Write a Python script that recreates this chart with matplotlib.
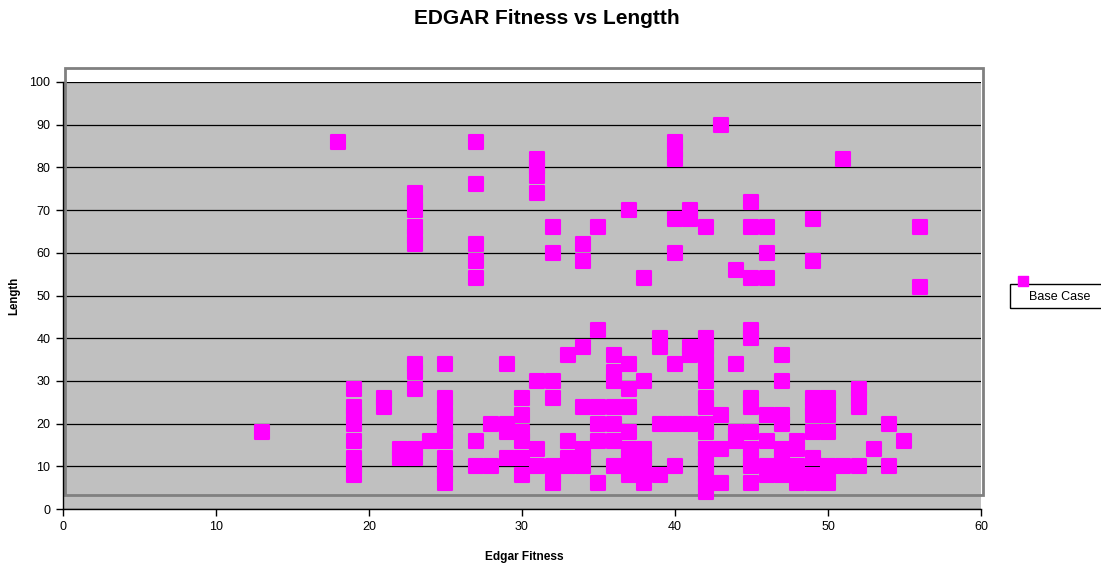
import matplotlib.pyplot as plt
from matplotlib.markers import MarkerStyle
from matplotlib.patches import Rectangle

plt.rcParams['font.family'] = ['Liberation Sans', 'DejaVu Sans']

# Edgar fitness value and the length of each run, grouped by fitness
fit_13 = [18]
fit_18 = [86]
fit_19 = [28, 24, 22, 20, 16, 12, 10, 8]
fit_21 = [26, 24]
fit_22 = [14, 12]
fit_23 = [74, 72, 70, 66, 64, 62, 34, 32, 28, 14, 12]
fit_24 = [16]
fit_25 = [34, 26, 24, 22, 20, 18, 16, 12, 10, 8, 6]
fit_27 = [86, 76, 62, 58, 54, 16, 10]
fit_28 = [20, 10]
fit_29 = [34, 20, 18, 12]
fit_30 = [26, 22, 18, 16, 12, 8]
fit_31 = [82, 80, 78, 74, 30, 14, 10]
fit_32 = [66, 60, 30, 26, 10, 8, 6]
fit_33 = [36, 16, 12, 10]
fit_34 = [62, 58, 38, 24, 14, 12, 10]
fit_35 = [66, 42, 24, 20, 16, 6]
fit_36 = [36, 32, 30, 24, 20, 16, 10]
fit_37 = [70, 34, 28, 24, 18, 14, 12, 10, 8]
fit_38 = [54, 30, 14, 12, 10, 8, 6]
fit_39 = [40, 38, 20, 8]
fit_40 = [86, 84, 82, 68, 60, 34, 20, 10]
fit_41 = [70, 68, 38, 36, 20]
fit_42 = [66, 40, 38, 36, 34, 32, 30, 26, 24, 20, 18, 14, 12, 10, 8, 6, 4]
fit_43 = [90, 22, 14, 6]
fit_44 = [56, 34, 18, 16]
fit_45 = [72, 66, 54, 42, 40, 26, 24, 18, 14, 12, 10, 6]
fit_46 = [66, 60, 54, 22, 16, 10, 8]
fit_47 = [36, 30, 22, 20, 14, 12, 10, 8]
fit_48 = [16, 14, 10, 8, 6]
fit_49 = [68, 58, 26, 24, 22, 18, 12, 8, 6]
fit_50 = [26, 24, 22, 18, 10, 8, 6]
fit_51 = [82, 10]
fit_52 = [28, 26, 24, 10]
fit_53 = [14]
fit_54 = [20, 10]
fit_55 = [16]
fit_56 = [66, 52]

runs = {13: fit_13, 18: fit_18, 19: fit_19, 21: fit_21, 22: fit_22, 23: fit_23,
        24: fit_24, 25: fit_25, 27: fit_27, 28: fit_28, 29: fit_29, 30: fit_30,
        31: fit_31, 32: fit_32, 33: fit_33, 34: fit_34, 35: fit_35, 36: fit_36,
        37: fit_37, 38: fit_38, 39: fit_39, 40: fit_40, 41: fit_41, 42: fit_42,
        43: fit_43, 44: fit_44, 45: fit_45, 46: fit_46, 47: fit_47, 48: fit_48,
        49: fit_49, 50: fit_50, 51: fit_51, 52: fit_52, 53: fit_53, 54: fit_54,
        55: fit_55, 56: fit_56}

fitness = []
length = []
for f, lens in runs.items():
    fitness += [f] * len(lens)
    length += lens

W, H = 1101, 567
fig = plt.figure(figsize=(W / 100, H / 100), dpi=100)
ax = fig.add_axes([63 / W, 58 / H, 918 / W, 427 / H])
ax.set_facecolor('#C0C0C0')

sq = MarkerStyle('s', joinstyle='round')
ax.scatter(fitness, length, marker=sq, s=100, c='#FF00FF',
           edgecolors='#FF00FF', linewidths=1.5, zorder=3, clip_on=False)

ax.set_xlim(0, 60)
ax.set_ylim(0, 100)
ax.set_xticks(range(0, 61, 10))
ax.set_yticks(range(0, 101, 10))
ax.tick_params(direction='out', length=5, width=1, labelsize=9, pad=4)
ax.yaxis.grid(True, color='black', linewidth=0.9)
ax.set_axisbelow(True)
for side in ['top', 'right']:
    ax.spines[side].set_visible(False)
for side in ['left', 'bottom']:
    ax.spines[side].set_linewidth(1)

# Excel-style plot area frame, shifted off the value axes
frame = Rectangle((2 / 918, 14 / 427), 1.0, 1.0, transform=ax.transAxes,
                  fill=False, edgecolor='#808080', linewidth=2, clip_on=False, zorder=2)
ax.add_patch(frame)

fig.text(547 / W, 1 - 19 / H, 'EDGAR Fitness vs Lengtth', ha='center', va='center',
         fontsize=15, fontweight='bold')
fig.text(524 / W, 1 - 557 / H, 'Edgar Fitness', ha='center', va='center',
         fontsize=8.6, fontweight='bold')
fig.text(14 / W, 1 - 296 / H, 'Length', ha='center', va='center', rotation=90,
         fontsize=8.3, fontweight='bold')

# legend
fig.patches.append(Rectangle((1010 / W, 1 - 308 / H), 100 / W, 24 / H,
                             transform=fig.transFigure, fill=False,
                             edgecolor='black', linewidth=1))
fig.lines.append(plt.Line2D([1022.5 / W], [1 - 281 / H], transform=fig.transFigure,
                            marker=sq, markersize=6.5, color='#FF00FF',
                            markeredgewidth=1))
fig.text(1060 / W, 1 - 297 / H, 'Base Case', ha='center', va='center', fontsize=9)

fig.savefig('out.png', dpi=100)
